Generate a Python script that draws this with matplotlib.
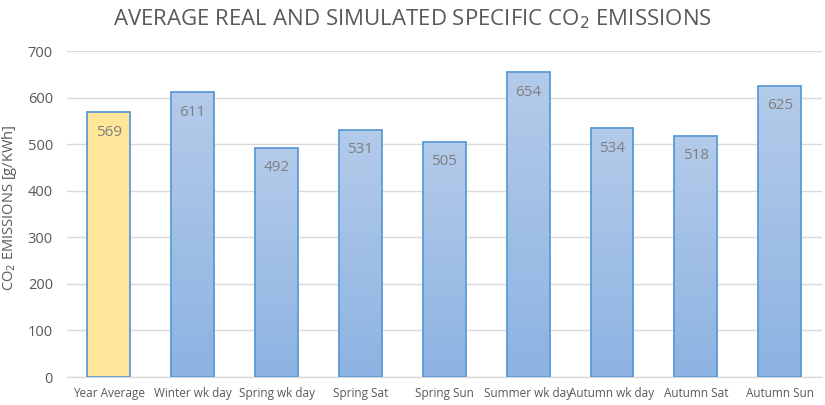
import matplotlib.pyplot as plt
import numpy as np
from matplotlib.colors import LinearSegmentedColormap

categories = ['Year Average', 'Winter wk day', 'Spring wk day', 'Spring Sat',
              'Spring Sun', 'Summer wk day', 'Autumn wk day', 'Autumn Sat', 'Autumn Sun']
emissions = [569, 611, 492, 531, 505, 654, 534, 518, 625]
y_ticks = [0, 100, 200, 300, 400, 500, 600, 700]

plt.rcParams['font.family'] = ['Open Sans', 'DejaVu Sans']

fig = plt.figure(figsize=(8.25, 4.05), dpi=100)
ax = fig.add_axes([0.081, 0.069, 0.915, 0.805])

x = np.arange(len(categories))
width = 0.51
blue_cmap = LinearSegmentedColormap.from_list('bluegrad', ['#8db3e2', '#b4cbea'])

bars = ax.bar(x, emissions, width=width, edgecolor='#5b9bd5', linewidth=1.3, zorder=3)
for i, b in enumerate(bars):
    if i == 0:
        b.set_facecolor('#ffe699')
        continue
    # vertical gradient fill, clipped to the bar outline
    b.set_facecolor('none')
    grad = np.linspace(0, 1, 256).reshape(-1, 1)
    img = ax.imshow(grad, cmap=blue_cmap, origin='lower', aspect='auto',
                    extent=[b.get_x(), b.get_x() + b.get_width(), 0, b.get_height()],
                    zorder=2)
    img.set_clip_path(b)

for xi, v in zip(x, emissions):
    ax.text(xi, v - 43, str(v), ha='center', va='center', color='#7f7f7f',
            fontsize=11, zorder=4)

ax.set_xlim(-0.5, len(categories) - 0.5)
ax.set_ylim(0, 700)
ax.set_yticks(y_ticks)
ax.set_xticks(x)
ax.set_xticklabels(categories, fontsize=8.5, color='#595959')
ax.tick_params(axis='y', labelsize=10.5, colors='#595959', length=0, pad=10)
ax.tick_params(axis='x', length=0, pad=7)
ax.grid(axis='y', color='#d9d9d9', linewidth=1, zorder=0)
for s in ['top', 'right', 'left']:
    ax.spines[s].set_visible(False)
ax.spines['bottom'].set_color('#d9d9d9')
ax.spines['bottom'].set_linewidth(1)

ax.set_ylabel('CO$_2$ EMISSIONS [g/KWh]', fontsize=10.5, color='#595959', labelpad=0)
ax.yaxis.set_label_coords(-0.063, 0.52)
fig.text(0.5, 0.953, 'AVERAGE REAL AND SIMULATED SPECIFIC CO$_2$ EMISSIONS',
         ha='center', va='center', fontsize=16, color='#595959')

fig.savefig('out.png', dpi=100)
